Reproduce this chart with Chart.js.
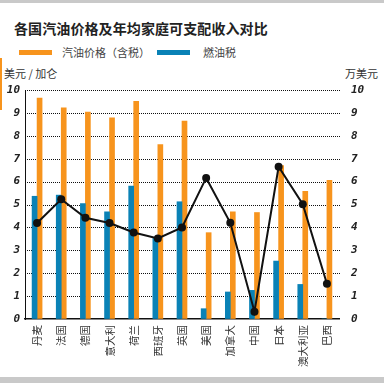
<!DOCTYPE html>
<html><head><meta charset="utf-8">
<script src="https://cdn.jsdelivr.net/npm/chart.js@4"></script>
<style>
html,body{margin:0;padding:0;background:#fff;}
#wrap{position:relative;width:384px;height:383px;overflow:hidden;background:#fff;font-family:"Noto Sans CJK SC",sans-serif;}
#topbar{position:absolute;left:0;top:0;width:384px;height:3px;background:#c9c9c9;}
#botbar{position:absolute;left:0;top:377px;width:384px;height:6px;background:#c9c9c9;}
#accent{position:absolute;left:0;top:58px;width:2px;height:52px;background:#f7941d;}
#title{position:absolute;left:14px;top:18px;font-size:14px;font-weight:bold;color:#222;white-space:nowrap;letter-spacing:0.1px;}
.sw{position:absolute;top:50px;width:33px;height:5px;}
.lg{position:absolute;top:44px;font-size:11px;color:#444;white-space:nowrap;}
.unit{position:absolute;top:65px;font-size:11px;color:#333;white-space:nowrap;}
#c{position:absolute;left:0;top:0;}
</style></head>
<body>
<div id="wrap">
<div id="topbar"></div><div id="botbar"></div><div id="accent"></div>
<div id="title">各国汽油价格及年均家庭可支配收入对比</div>
<div class="sw" style="left:19px;background:#f7941d"></div>
<div class="lg" style="left:62px">汽油价格（含税）</div>
<div class="sw" style="left:157px;background:#0a82b6"></div>
<div class="lg" style="left:203px">燃油税</div>
<div class="unit" style="left:4px">美元 / 加仑</div>
<div class="unit" style="left:345px">万美元</div>
<canvas id="c" width="384" height="383"></canvas>
</div>
<script>
const categories = ["丹麦","法国","德国","意大利","荷兰","西班牙","英国","美国","加拿大","中国","日本","澳大利亚","巴西"];
const gasPrice = [9.65, 9.22, 9.04, 8.78, 9.51, 7.62, 8.64, 3.77, 4.68, 4.65, 6.7, 5.58, 6.06];
const fuelTax = [5.36, 5.41, 5.04, 4.68, 5.80, 3.52, 5.12, 0.45, 1.18, 1.25, 2.53, 1.51, 0];
const income = [4.19, 5.23, 4.42, 4.19, 3.78, 3.52, 4.0, 6.16, 4.2, 0.32, 6.65, 5.01, 1.54];
const yTicks = [0,1,2,3,4,5,6,7,8,9,10];

const tickFont = {family:"DejaVu Sans Mono", size:11, weight:"bold", style:"italic"};
new Chart(document.getElementById('c'), {
  data: {
    labels: categories,
    datasets: [
      {type:'line', label:'年均家庭可支配收入', data: income, yAxisID:'y2', borderColor:'#111', backgroundColor:'#111', borderWidth:2, pointRadius:4, pointBackgroundColor:'#111', pointBorderWidth:0, tension:0, order:0},
      {type:'bar', label:'燃油税', data: fuelTax, yAxisID:'y', backgroundColor:'#0a82b6', barThickness:5, order:1},
      {type:'bar', label:'汽油价格（含税）', data: gasPrice, yAxisID:'y', backgroundColor:'#f7941d', barThickness:5, order:1}
    ]
  },
  options: {
    responsive:false, animation:false, devicePixelRatio:1,
    layout:{padding:{top:90,left:0,right:0,bottom:0}},
    plugins:{legend:{display:false}, tooltip:{enabled:false}},
    scales:{
      x:{
        grid:{display:false, drawTicks:false},
        border:{color:'#111', width:1.5},
        ticks:{color:'#333', font:{family:"Noto Sans CJK SC", size:10.5}, minRotation:90, maxRotation:90, autoSkip:false, padding:6},
        afterFit(s){ s.height = 64; }
      },
      y:{
        position:'left', min:0, max:10,
        afterBuildTicks(s){ s.ticks = yTicks.map(v=>({value:v})); },
        grid:{drawOnChartArea:false, drawTicks:false},
        border:{color:'#111', width:1},
        ticks:{color:'#222', font:tickFont, padding:5},
        afterFit(s){ s.width = 25; }
      },
      y2:{
        position:'right', min:0, max:10,
        afterBuildTicks(s){ s.ticks = yTicks.map(v=>({value:v})); },
        grid:{display:false, drawTicks:false},
        border:{display:false},
        ticks:{color:'#222', font:tickFont, padding:12},
        afterFit(s){ s.width = 45; }
      }
    }
  },
  plugins:[{
    id:'dotgrid',
    beforeDatasetsDraw(chart){
      const {ctx, chartArea:a, scales:{y}} = chart;
      ctx.save();
      ctx.strokeStyle='#111'; ctx.lineWidth=1; ctx.setLineDash([1,1]);
      yTicks.forEach(v=>{ if(v===0) return; const py=Math.round(y.getPixelForValue(v))+0.5; ctx.beginPath(); ctx.moveTo(a.left+2,py); ctx.lineTo(a.right+2,py); ctx.stroke(); });
      ctx.restore();
    }
  }]
});
</script>
</body></html>
